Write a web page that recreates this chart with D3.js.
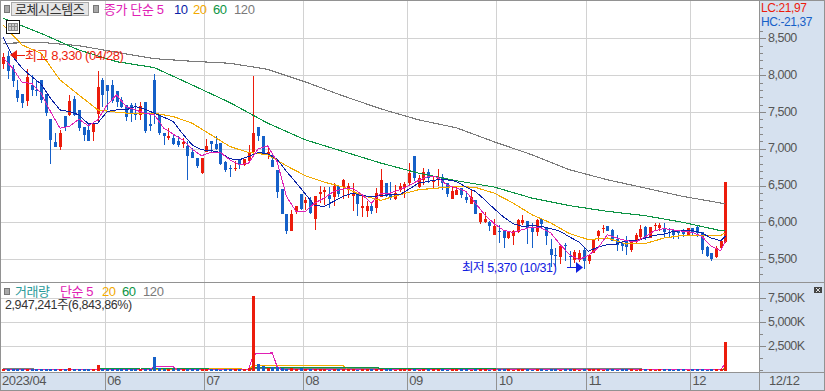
<!DOCTYPE html>
<html>
<head>
<meta charset="utf-8">
<script src="https://cdn.jsdelivr.net/npm/d3@7/dist/d3.min.js"></script>
<style>
  html, body { margin: 0; padding: 0; background: #fff; }
  svg { display: block; }
  text { font-family: "Liberation Sans", "Noto Sans CJK KR", sans-serif; }
</style>
</head>
<body>
<div id="chart"></div>
<script>
const opens = [8150,8260,8080,7800,7750,7650,7870,7800,7930,7750,7400,7090,7020,7440,7460,7680,7530,7300,7260,7230,7470,7935,7870,7870,7790,7660,7590,7600,7480,7460,7640,7330,7935,7460,7210,7140,7140,7110,7070,7040,6950,6870,6670,6960,7110,7070,7080,6815,6740,6730,6860,6780,6840,6950,7290,7180,6920,6850,
  6710,6450,6110,5890,6150,6390,6260,6300,6050,6380,6410,6370,6340,6500,6480,6440,6360,6390,6190,6150,6230,6190,6350,6535,6390,6320,6435,6480,6530,6900,6480,6570,6680,6550,6570,6620,6540,6320,6375,6470,6350,6255,6310,6005,6000,6005,5835,5880,5890,5790,5810,5870,5995,6020,5925,5870,6050,5925,
  5645,5565,5530,5700,5540,5495,5495,5630,5475,5585,5810,5915,5950,5900,5780,5720,5745,5620,5735,5805,5940,5790,5960,5925,5925,5870,5900,5890,5890,5810,5925,5945,5870,5665,5585,5530,5655,5730];
const highs = [8300,8330,8140,7940,7750,8090,8000,7940,7940,7750,7400,7220,7260,7440,7730,7710,7530,7300,7330,7370,8060,7960,7870,7935,7790,7700,7590,7620,7620,7640,7640,7460,8020,7460,7210,7280,7190,7170,7140,7100,7010,6870,6870,7130,7110,7180,7080,6830,6780,6830,6860,6860,7050,7990,7300,7180,7040,6920,
  6710,6460,6110,6170,6230,6390,6340,6350,6360,6490,6480,6480,6530,6500,6590,6540,6540,6390,6360,6290,6270,6470,6720,6535,6550,6510,6540,6550,6810,6905,6650,6740,6730,6630,6730,6660,6540,6490,6490,6470,6420,6455,6310,6130,6140,6015,6050,5970,5900,5880,5900,6050,6105,6020,5990,6050,6050,5925,
  5780,5660,5700,5720,5610,5620,5620,5650,5570,5770,5900,5970,5950,5910,5835,5720,5810,5745,5860,5970,5950,5935,5995,5990,5990,5930,5910,5900,5910,5930,5930,5955,5870,5680,5585,5680,5745,6550];
const lows = [8080,7950,7840,7640,7560,7580,7710,7710,7620,7440,6800,7020,6980,7240,7440,7440,7240,7110,7100,7100,7350,7570,7530,7620,7570,7550,7380,7370,7390,7390,7210,7240,7330,7190,7050,7120,7050,7030,7010,6580,6870,6740,6660,6950,6960,6990,6780,6680,6620,6700,6720,6770,6810,6920,7100,6910,6860,6750,
  6330,6115,5840,5890,6110,6170,6170,6120,5900,6260,6240,6200,6220,6350,6320,6330,6150,6090,6070,6080,6120,6130,6350,6350,6300,6310,6410,6330,6510,6560,6470,6510,6535,6470,6490,6435,6350,6320,6375,6330,6260,6255,6120,5980,5990,5880,5835,5720,5660,5770,5690,5860,5970,5710,5660,5820,5925,5700,
  5400,5390,5430,5475,5400,5455,5470,5370,5430,5580,5745,5860,5880,5745,5610,5610,5565,5595,5710,5770,5760,5785,5900,5880,5790,5800,5770,5780,5800,5810,5830,5800,5575,5525,5480,5520,5630,5720];
const closes = [8250,8050,7920,7690,7620,7970,7800,7780,7660,7490,7120,7020,7220,7290,7650,7460,7280,7190,7110,7330,7840,7730,7780,7650,7640,7570,7430,7480,7460,7580,7240,7310,7480,7220,7170,7180,7070,7045,7090,6905,6870,6760,6870,7040,7060,7000,6800,6710,6730,6740,6780,6860,6960,7210,7170,6920,6960,6750,
  6410,6115,5880,6110,6230,6180,6300,6130,6360,6410,6440,6320,6500,6390,6580,6490,6400,6250,6230,6220,6150,6400,6580,6360,6350,6400,6500,6520,6670,6600,6600,6680,6600,6580,6620,6535,6390,6430,6435,6375,6310,6350,6120,6130,6050,5950,5950,5870,5790,5870,5890,6030,6030,5920,5870,6030,5985,5820,
  5565,5555,5675,5690,5530,5600,5590,5475,5555,5770,5890,5930,5880,5745,5700,5675,5670,5735,5835,5905,5800,5935,5970,5970,5870,5860,5835,5855,5850,5925,5870,5860,5620,5550,5510,5655,5745,6550];
const volumes = [120,150,110,90,100,130,110,90,100,120,140,100,110,90,240,100,110,90,120,100,550,160,120,110,100,90,110,100,90,120,100,90,1380,240,120,100,90,100,110,90,130,100,110,120,90,100,80,110,90,100,90,110,200,7730,620,450,250,350,
  300,260,180,200,180,200,150,180,110,90,100,80,110,90,100,120,90,80,110,100,90,120,100,90,110,80,100,90,120,100,80,110,90,100,110,90,80,100,90,110,120,80,100,90,110,80,90,100,110,90,80,100,90,110,80,100,90,80,
  100,90,80,110,90,100,80,90,110,150,90,80,100,90,80,100,120,90,80,100,110,90,80,100,90,110,80,90,100,80,110,100,90,80,100,90,110,2947];

// moving averages are read every few candles off the picture
const ma5 = [8229,8093,7899,7890,7754,7506,7280,7303,7402,7312,7393,7596,7732,7574,7528,7483,7461,7280,7199,7122,6995,6905,6955,6950,6851,6783,6806,7000,7040,
  6828,6354,6151,6151,6264,6331,6422,6453,6467,6377,6264,6399,6399,6444,6503,6571,6625,6616,6508,6467,6422,6264,6106,5984,5893,5866,5902,5938,5925,
  5857,5699,5563,5496,5554,5654,5834,5789,5753,5735,5803,5889,5916,5898,5880,5866,5812,5676,5618,5744];
const ma10 = [8513,8251,8093,7980,7881,7686,7528,7506,7461,7339,7348,7506,7528,7528,7574,7537,7483,7429,7370,7203,7054,6986,6977,6950,6864,6851,6896,6950,6932,
  6860,6693,6544,6386,6228,6219,6286,6354,6399,6363,6354,6363,6377,6377,6453,6535,6557,6580,6580,6557,6481,6422,6309,6187,6074,5984,5948,5957,5948,
  5916,5880,5803,5735,5609,5667,5699,5708,5758,5753,5789,5825,5843,5880,5889,5889,5857,5789,5753,5812];
const ma20 = [8680,8409,8296,7935,7732,7528,7497,7474,7483,7438,7348,7190,7031,6950,6919,6770,6634,6548,6481,6368,6300,6377,6444,6467,6490,6476,6399,6264,6106,5993,5848,5767,5789,5708,5713,5789,5825,5821,5825,5860];
const ma60 = [8771,8567,8341,8183,8102,7867,7628,7348,7122,6964,6806,6670,6566,6481,6331,6228,6151,6092,6002,5889,5889];
const ma120 = [8432,8445,8400,8310,8224,8188,8161,8079,7908,7718,7542,7393,7285,7095,6919,6715,6580,6467,6354,6264,6255];

const vol5_idx = [0,31,32,36,37,51,52,53,54,57,58,59,151,152,153];
const vol5 = [90,90,360,360,60,60,100,1650,1770,1800,400,60,60,100,650];
const vol20_idx = [0,42,43,50,51,52,53,72,73,152,153];
const vol20 = [40,40,210,210,60,150,480,480,70,50,180];
const vol60_idx = [0,20,21,28,29,30,43,44,52,53,79,80,104,105,153];
const vol60 = [60,60,210,210,120,210,210,80,80,320,320,150,150,100,40];
const vol120_idx = [0,6,7,52,53,135,136,153];
const vol120 = [200,200,60,60,170,170,60,80];

const monthStarts = [21.5,42.5,63.5,85.5,104.5,123.5,145.5];
const monthLabels = ["06","07","08","09","10","11","12"];
const priceTicks = [5500,6000,6500,7000,7500,8000,8500];
const priceMinor = d3.range(5300,8700,100);
const volTicks = [2500,5000,7500];
const volMinor = [0,1250,2500,3750,5000,6250,7500];

const UP = "#ec1c0c", DOWN = "#1560c8";
const PINK = "#e020b4", NAVY = "#0a22a6", ORANGE = "#f2a900", GREEN = "#0d9444", GRAY = "#7a7a7a";
const GRID = "#d2d2d2", BORDER = "#929292", PANEL = "#d6e1ef", TICKTXT = "#555";
const dim = { width: 825, height: 391, plot_r: 759, price_b: 282, vol_b: 372 };

const svg = d3.select("#chart").append("svg")
  .attr("width", dim.width).attr("height", dim.height)
  .attr("shape-rendering", "crispEdges");

const d3x = d3.scaleLinear().domain([0, 153]).range([3.3, 725.4]);
const d3y = d3.scaleLinear().domain([5500, 8500]).range([259.3, 38.3]);
const d3v = d3.scaleLinear().domain([0, 7500]).range([370.3, 298.3]);

drawPanels();
drawPrice();
drawVolume();
drawLabels();

function drawPanels() {
  svg.append("rect").attr("x", dim.plot_r).attr("y", 0).attr("width", dim.width - dim.plot_r).attr("height", dim.height).attr("fill", PANEL);
  svg.append("rect").attr("x", 0).attr("y", dim.vol_b).attr("width", dim.width).attr("height", dim.height - dim.vol_b).attr("fill", PANEL);

  // horizontal grid
  const hgrid = svg.append("g");
  hgrid.selectAll("line.p").data(priceTicks).enter().append("line").attr("class", "p")
    .attr("x1", 0).attr("x2", dim.plot_r).attr("y1", d => Math.round(d3y(d))).attr("y2", d => Math.round(d3y(d))).attr("stroke", GRID);
  hgrid.selectAll("line.v").data(volTicks).enter().append("line").attr("class", "v")
    .attr("x1", 0).attr("x2", dim.plot_r).attr("y1", d => Math.round(d3v(d))).attr("y2", d => Math.round(d3v(d))).attr("stroke", GRID);

  // month lines come from the bottom axis, the upper part is grid and the strip part is darker
  const month_g = svg.append("g").attr("class", "x-axis").attr("transform", "translate(0," + dim.vol_b + ")");
  month_g.call(d3.axisBottom(d3x).tickValues(monthStarts).tickSize(-dim.vol_b).tickFormat((d, i) => monthLabels[i]));
  month_g.select(".domain").remove();
  month_g.selectAll("line").attr("stroke", GRID);
  month_g.selectAll("text")
    .attr("y", 4).attr("dy", "0.71em").attr("x", 2).style("text-anchor", "start")
    .style("font-size", "13px").style("letter-spacing", "-0.6px").attr("fill", TICKTXT);
  month_g.selectAll(".tick").append("line").attr("y1", 0).attr("y2", dim.height - dim.vol_b).attr("stroke", BORDER);

  // borders
  const border = svg.append("g").attr("stroke", BORDER).attr("stroke-width", 1);
  const lines = [[0, 0.5, 825, 0.5], [0.5, 0, 0.5, 391], [dim.plot_r + 0.5, 0, dim.plot_r + 0.5, 391],
    [0, dim.price_b + 0.5, 825, dim.price_b + 0.5], [0, dim.vol_b + 0.5, 825, dim.vol_b + 0.5], [0, 390.5, 825, 390.5], [824.5, 0, 824.5, 391]];
  border.selectAll("line").data(lines).enter().append("line")
    .attr("x1", d => d[0]).attr("y1", d => d[1]).attr("x2", d => d[2]).attr("y2", d => d[3]);

  // right side axes
  const px = dim.plot_r + 1;
  const price_minor = svg.append("g").attr("transform", "translate(" + px + ",0)")
    .call(d3.axisRight(d3y).tickValues(priceMinor).tickSize(3).tickFormat(""));
  const price_axis = svg.append("g").attr("class", "y-axis").attr("transform", "translate(" + px + ",0)")
    .call(d3.axisRight(d3y).tickValues(priceTicks).tickSize(6).tickPadding(2).tickFormat(d3.format(",")));
  const vol_minor = svg.append("g").attr("transform", "translate(" + px + ",0)")
    .call(d3.axisRight(d3v).tickValues(volMinor).tickSize(3).tickFormat(""));
  const vol_axis = svg.append("g").attr("class", "y-axis").attr("transform", "translate(" + px + ",0)")
    .call(d3.axisRight(d3v).tickValues(volTicks).tickSize(6).tickPadding(2).tickFormat(d => d3.format(",")(d) + "K"));

  [price_minor, price_axis, vol_minor, vol_axis].forEach(a => {
    a.select(".domain").remove();
    a.selectAll("line").attr("stroke", "#888");
    a.selectAll("text").attr("fill", TICKTXT).attr("dy", "0.25em").style("font-size", "12.5px").style("letter-spacing", "-0.5px");
  });
}

function drawCandles(g) {
  const idx = d3.range(opens.length);
  g.selectAll("line.wick").data(idx).enter().append("line").attr("class", "wick")
    .attr("x1", i => Math.round(d3x(i)) + 0.5).attr("x2", i => Math.round(d3x(i)) + 0.5)
    .attr("y1", i => d3y(highs[i])).attr("y2", i => d3y(lows[i]))
    .attr("stroke", i => closes[i] >= opens[i] ? UP : DOWN);
  g.selectAll("rect.body").data(idx).enter().append("rect").attr("class", "body")
    .attr("x", i => Math.round(d3x(i)) - 1).attr("width", 3)
    .attr("y", i => d3y(Math.max(opens[i], closes[i])))
    .attr("height", i => Math.max(1, Math.abs(d3y(opens[i]) - d3y(closes[i]))))
    .attr("fill", i => closes[i] >= opens[i] ? UP : DOWN);
}

function drawPrice() {
  const g = svg.append("g");
  drawCandles(g);

  const line = d3.line().x(d => d3x(d[0])).y(d => d3y(d[1]));
  const series = [
    [ma120, 8, GRAY, 1.1], [ma60, 8, GREEN, 1.1], [ma20, 4, ORANGE, 1.1], [ma10, 2, NAVY, 1], [ma5, 2, PINK, 1]
  ];
  series.forEach(([vals, step, color, w]) => {
    const pts = vals.map((v, i) => [Math.min(i * step, 153), v]);
    g.append("path").attr("d", line(pts)).attr("fill", "none").attr("stroke", color).attr("stroke-width", w);
  });
}

function drawVolume() {
  const g = svg.append("g");

  // lines go under the bars, the tall bars cut them in the reference
  const line = d3.line().x(d => d3x(d[0])).y(d => d3v(d[1]));
  const series = [
    [vol120_idx, vol120, GRAY], [vol20_idx, vol20, ORANGE], [vol60_idx, vol60, GREEN], [vol5_idx, vol5, PINK]
  ];
  series.forEach(([ix, vals, color]) => {
    g.append("path").attr("d", line(ix.map((x, i) => [x, vals[i]]))).attr("fill", "none").attr("stroke", color).attr("stroke-width", 1.1);
  });

  const idx = d3.range(volumes.length);
  g.selectAll("rect").data(idx).enter().append("rect")
    .attr("x", i => Math.round(d3x(i)) - 1).attr("width", 3)
    .attr("y", i => d3v(volumes[i]))
    .attr("height", i => d3v(0) - d3v(volumes[i]) + 1)
    .attr("fill", i => closes[i] >= opens[i] ? UP : DOWN);
}

function label(txt, x, y, color, size) {
  return svg.append("text").attr("x", x).attr("y", y).attr("fill", color)
    .style("font-size", (size || 12.5) + "px").style("letter-spacing", "-0.4px").text(txt);
}

function drawLabels() {
  // title bar
  svg.append("rect").attr("x", 4).attr("y", 5).attr("width", 5).attr("height", 7).attr("fill", "#a8a8a8").attr("stroke", "#777");
  svg.append("rect").attr("x", 11.5).attr("y", 2.5).attr("width", 77).attr("height", 13).attr("fill", "#e6e6e6").attr("stroke", "#aaa");
  svg.append("rect").attr("x", 93).attr("y", 5).attr("width", 5).attr("height", 7).attr("fill", "#a8a8a8").attr("stroke", "#777");
  label("로체시스템즈", 15, 14, "#333", 13);
  label("종가 단순 5", 104, 14, PINK, 13);
  label("10", 174, 14, NAVY, 13);
  label("20", 193, 14, ORANGE, 13);
  label("60", 213, 14, GREEN, 13);
  label("120", 234, 14, GRAY, 13);

  // small table icon
  svg.append("rect").attr("x", 6.5).attr("y", 20.5).attr("width", 13).attr("height", 13).attr("fill", "#fff").attr("stroke", "#111");
  svg.append("rect").attr("x", 8.5).attr("y", 23.5).attr("width", 9).attr("height", 7).attr("fill", "#ccc").attr("stroke", "#888");
  svg.append("line").attr("x1", 11.5).attr("x2", 11.5).attr("y1", 23).attr("y2", 31).attr("stroke", "#888");
  svg.append("line").attr("x1", 14.5).attr("x2", 14.5).attr("y1", 23).attr("y2", 31).attr("stroke", "#888");
  svg.append("line").attr("x1", 8).attr("x2", 18).attr("y1", 26.5).attr("y2", 26.5).attr("stroke", "#888");

  // high / low notes
  svg.append("path").attr("d", "M10 55L17 50V60Z").attr("fill", UP).attr("shape-rendering", "auto");
  svg.append("line").attr("x1", 16).attr("x2", 25).attr("y1", 55.5).attr("y2", 55.5).attr("stroke", UP);
  label("최고 8,330 (04/28)", 25, 60, UP, 13);
  label("최저 5,370 (10/31)", 462, 272, "#1020e0", 12.5);
  svg.append("line").attr("x1", 567).attr("x2", 578).attr("y1", 267.5).attr("y2", 267.5).attr("stroke", "#1020e0");
  svg.append("path").attr("d", "M583 267.5L576 262V273Z").attr("fill", "#1020e0").attr("shape-rendering", "auto");

  // right top
  label("LC:21,97", 761, 11.5, UP, 12);
  label("HC:-21,37", 761, 25.5, DOWN, 12);

  // volume legend
  svg.append("rect").attr("x", 4).attr("y", 288).attr("width", 5).attr("height", 6).attr("fill", "#a8a8a8").attr("stroke", "#777");
  label("거래량", 15, 296, "#2a9a9a", 13);
  label("단순 5", 60, 296, PINK, 13);
  label("20", 102, 296, ORANGE, 13);
  label("60", 122, 296, GREEN, 13);
  label("120", 143, 296, GRAY, 13);
  label("2,947,241주(6,843,86%)", 5, 309, "#333", 12.5);

  // close icon
  svg.append("rect").attr("x", 814).attr("y", 287).attr("width", 8).attr("height", 6).attr("fill", "#444");
  svg.append("path").attr("d", "M816 288L820 292M820 288L816 292").attr("stroke", "#ddd").attr("fill", "none");

  // bottom strip
  label("2023/04", 2, 385, TICKTXT, 13);
  label("12/12", 769, 385, TICKTXT, 13);
}
</script>
</body>
</html>
